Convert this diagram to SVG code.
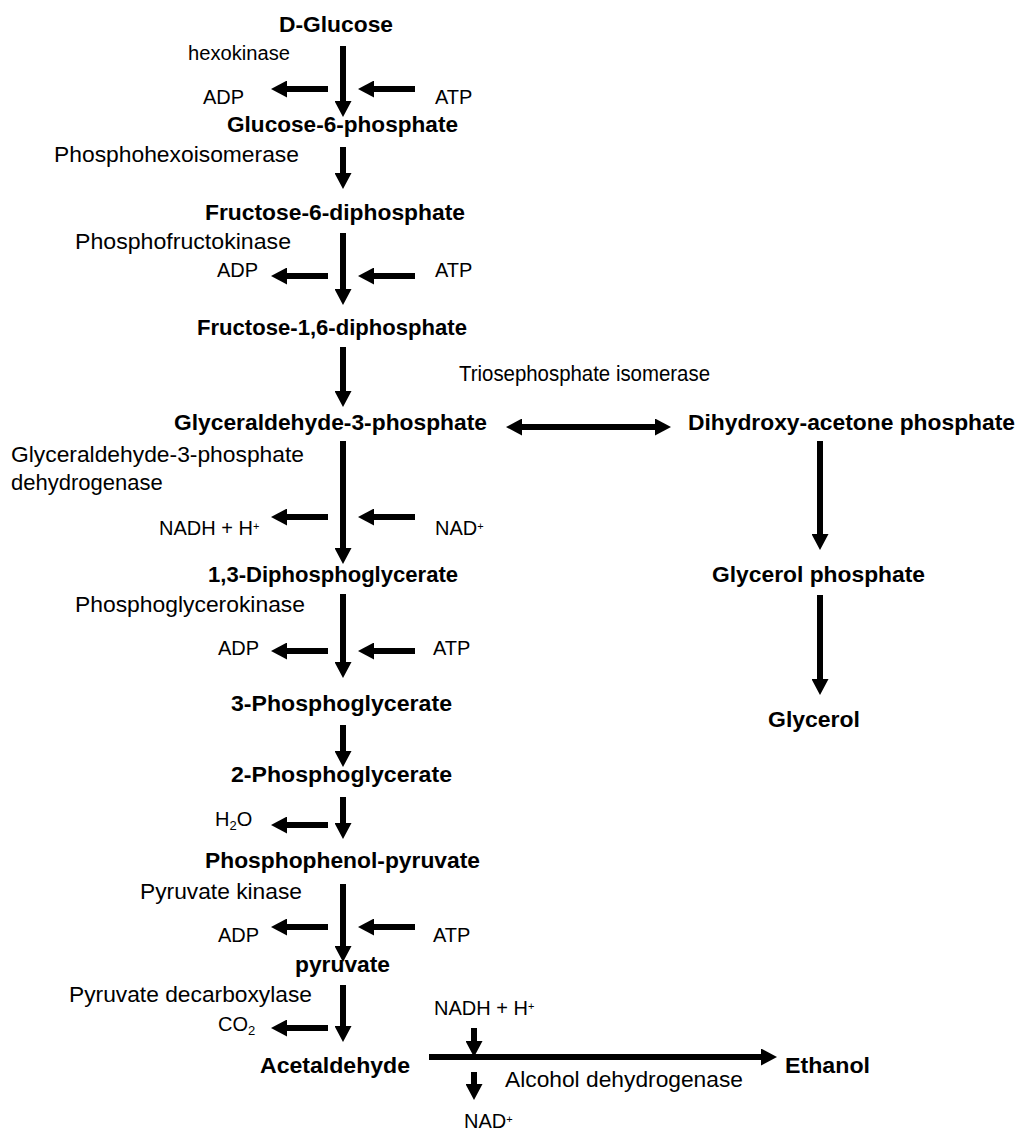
<svg xmlns="http://www.w3.org/2000/svg" width="1021" height="1130" viewBox="0 0 1021 1130">
<style>
text{font-family:"Liberation Sans",Arial,sans-serif;fill:#000}
.b{font-weight:bold;font-size:22px}
.e{font-size:22px}
.c{font-size:20px}
.sup{font-size:11px}
line{stroke:#000;stroke-width:6}
</style>
<defs>
<marker id="ah" markerUnits="userSpaceOnUse" markerWidth="17" markerHeight="17" refX="0" refY="8.5" orient="auto-start-reverse">
<path d="M0,0 L16,8.5 L0,17 z" fill="#000"/>
</marker>
</defs>
<rect width="1021" height="1130" fill="#fff"/>
<g id="connectors">
<line x1="343" y1="46" x2="343" y2="101" marker-end="url(#ah)"/>
<line x1="343" y1="147" x2="343" y2="173" marker-end="url(#ah)"/>
<line x1="343" y1="233" x2="343" y2="289" marker-end="url(#ah)"/>
<line x1="343" y1="347" x2="343" y2="391" marker-end="url(#ah)"/>
<line x1="343" y1="441" x2="343" y2="548" marker-end="url(#ah)"/>
<line x1="343" y1="594" x2="343" y2="662" marker-end="url(#ah)"/>
<line x1="343" y1="725" x2="343" y2="751" marker-end="url(#ah)"/>
<line x1="343" y1="797" x2="343" y2="823" marker-end="url(#ah)"/>
<line x1="343" y1="884" x2="343" y2="946" marker-end="url(#ah)"/>
<line x1="343" y1="985" x2="343" y2="1026" marker-end="url(#ah)"/>
<line x1="328" y1="89" x2="287" y2="89" marker-end="url(#ah)"/>
<line x1="415" y1="89" x2="374" y2="89" marker-end="url(#ah)"/>
<line x1="328" y1="276" x2="287" y2="276" marker-end="url(#ah)"/>
<line x1="415" y1="276" x2="374" y2="276" marker-end="url(#ah)"/>
<line x1="328" y1="517" x2="287" y2="517" marker-end="url(#ah)"/>
<line x1="415" y1="517" x2="374" y2="517" marker-end="url(#ah)"/>
<line x1="328" y1="651" x2="287" y2="651" marker-end="url(#ah)"/>
<line x1="415" y1="651" x2="374" y2="651" marker-end="url(#ah)"/>
<line x1="328" y1="825" x2="287" y2="825" marker-end="url(#ah)"/>
<line x1="328" y1="927" x2="287" y2="927" marker-end="url(#ah)"/>
<line x1="415" y1="927" x2="374" y2="927" marker-end="url(#ah)"/>
<line x1="328" y1="1028" x2="287" y2="1028" marker-end="url(#ah)"/>
<line x1="522" y1="427" x2="655" y2="427" marker-start="url(#ah)" marker-end="url(#ah)"/>
<line x1="820" y1="441" x2="820" y2="534" marker-end="url(#ah)"/>
<line x1="820" y1="595" x2="820" y2="679" marker-end="url(#ah)"/>
<line x1="429" y1="1057" x2="761" y2="1057" marker-end="url(#ah)"/>
<line x1="474" y1="1028" x2="474" y2="1041" marker-end="url(#ah)"/>
<line x1="474" y1="1072" x2="474" y2="1084" marker-end="url(#ah)"/>
</g>
<g id="d-glucose"><text class="b" x="279" y="32" textLength="114" lengthAdjust="spacingAndGlyphs">D-Glucose</text></g>
<g id="glucose-6-phosphate"><text class="b" x="227" y="132" textLength="231" lengthAdjust="spacingAndGlyphs">Glucose-6-phosphate</text></g>
<g id="fructose-6-diphosphate"><text class="b" x="205" y="220" textLength="260" lengthAdjust="spacingAndGlyphs">Fructose-6-diphosphate</text></g>
<g id="fructose-1-6-diphosphate"><text class="b" x="197" y="335" textLength="270" lengthAdjust="spacingAndGlyphs">Fructose-1,6-diphosphate</text></g>
<g id="glyceraldehyde-3-phosphate"><text class="b" x="174" y="430" textLength="313" lengthAdjust="spacingAndGlyphs">Glyceraldehyde-3-phosphate</text></g>
<g id="dihydroxyacetone-phosphate"><text class="b" x="688" y="430" textLength="327" lengthAdjust="spacingAndGlyphs">Dihydroxy-acetone phosphate</text></g>
<g id="diphosphoglycerate"><text class="b" x="208" y="582" textLength="250" lengthAdjust="spacingAndGlyphs">1,3-Diphosphoglycerate</text></g>
<g id="glycerol-phosphate"><text class="b" x="712" y="582" textLength="213" lengthAdjust="spacingAndGlyphs">Glycerol phosphate</text></g>
<g id="3-phosphoglycerate"><text class="b" x="231" y="711" textLength="221" lengthAdjust="spacingAndGlyphs">3-Phosphoglycerate</text></g>
<g id="glycerol"><text class="b" x="768" y="727" textLength="92" lengthAdjust="spacingAndGlyphs">Glycerol</text></g>
<g id="2-phosphoglycerate"><text class="b" x="231" y="782" textLength="221" lengthAdjust="spacingAndGlyphs">2-Phosphoglycerate</text></g>
<g id="phosphoenolpyruvate"><text class="b" x="205" y="868" textLength="275" lengthAdjust="spacingAndGlyphs">Phosphophenol-pyruvate</text></g>
<g id="pyruvate"><text class="b" x="295" y="972" textLength="95" lengthAdjust="spacingAndGlyphs">pyruvate</text></g>
<g id="acetaldehyde"><text class="b" x="260" y="1073" textLength="150" lengthAdjust="spacingAndGlyphs">Acetaldehyde</text></g>
<g id="ethanol"><text class="b" x="785" y="1073" textLength="85" lengthAdjust="spacingAndGlyphs">Ethanol</text></g>
<g id="labels">
<text class="c" x="188" y="60" textLength="102" lengthAdjust="spacingAndGlyphs">hexokinase</text>
<text class="e" x="54" y="162" textLength="245" lengthAdjust="spacingAndGlyphs">Phosphohexoisomerase</text>
<text class="e" x="75" y="249" textLength="216" lengthAdjust="spacingAndGlyphs">Phosphofructokinase</text>
<text class="e" x="459" y="381" textLength="251" lengthAdjust="spacingAndGlyphs">Triosephosphate isomerase</text>
<text class="e" x="11" y="462" textLength="293" lengthAdjust="spacingAndGlyphs">Glyceraldehyde-3-phosphate</text>
<text class="e" x="11" y="490">dehydrogenase</text>
<text class="e" x="75" y="612" textLength="230" lengthAdjust="spacingAndGlyphs">Phosphoglycerokinase</text>
<text class="e" x="140" y="899" textLength="162" lengthAdjust="spacingAndGlyphs">Pyruvate kinase</text>
<text class="e" x="69" y="1002" textLength="243" lengthAdjust="spacingAndGlyphs">Pyruvate decarboxylase</text>
<text class="e" x="505" y="1087" textLength="238" lengthAdjust="spacingAndGlyphs">Alcohol dehydrogenase</text>
<text class="c" x="203" y="104">ADP</text>
<text class="c" x="435" y="104">ATP</text>
<text class="c" x="217" y="277">ADP</text>
<text class="c" x="435" y="277">ATP</text>
<text class="c" x="159" y="535">NADH + H<tspan class="sup" dy="-5">+</tspan></text>
<text class="c" x="435" y="535">NAD<tspan class="sup" dy="-5">+</tspan></text>
<text class="c" x="218" y="655">ADP</text>
<text class="c" x="433" y="655">ATP</text>
<text class="c" x="215" y="826">H<tspan font-size="13" dy="4">2</tspan><tspan dy="-4">O</tspan></text>
<text class="c" x="218" y="942">ADP</text>
<text class="c" x="433" y="942">ATP</text>
<text class="c" x="218" y="1031">CO<tspan font-size="13" dy="4">2</tspan></text>
<text class="c" x="434" y="1015">NADH + H<tspan class="sup" dy="-5">+</tspan></text>
<text class="c" x="464" y="1128">NAD<tspan class="sup" dy="-5">+</tspan></text>
</g>
</svg>
